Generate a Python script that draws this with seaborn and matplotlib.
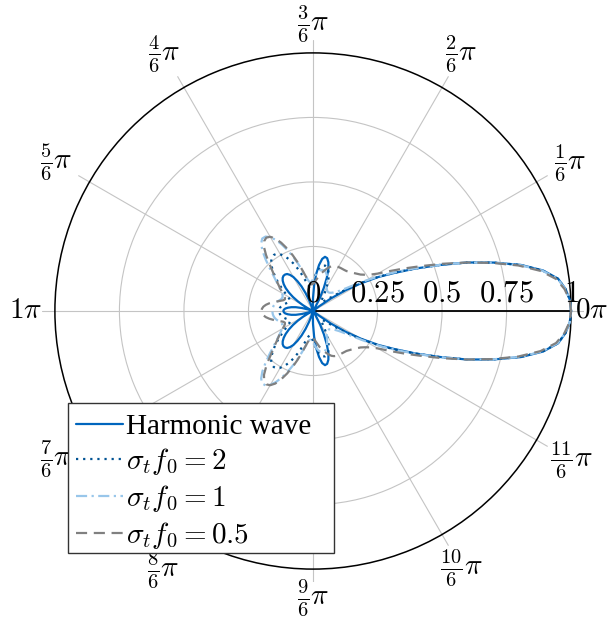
import numpy as np
import pandas as pd
import matplotlib
matplotlib.use("Agg")
import matplotlib.pyplot as plt
from matplotlib.patches import Rectangle
import seaborn as sns

# Directivity patterns (upper half-plane, mirrored below), angle in degrees
angle_deg = np.arange(0, 180.1, 2.5)

harmonic = [1.000, 0.996, 0.982, 0.958, 0.905, 0.825, 0.725, 0.625, 0.520, 0.430,
            0.350, 0.285, 0.215, 0.150, 0.085, 0.030, 0.005, 0.000, 0.000, 0.000,
            0.000, 0.000, 0.000, 0.005, 0.020, 0.060, 0.100, 0.140, 0.175, 0.198,
            0.212, 0.215, 0.205, 0.180, 0.145, 0.100, 0.050, 0.015, 0.000, 0.000,
            0.000, 0.000, 0.005, 0.020, 0.045, 0.075, 0.105, 0.130, 0.152, 0.166,
            0.175, 0.178, 0.178, 0.174, 0.166, 0.154, 0.138, 0.118, 0.095, 0.070,
            0.045, 0.020, 0.005, 0.000, 0.005, 0.020, 0.045, 0.068, 0.085, 0.098,
            0.108, 0.113, 0.115]

sigma_2 = [1.000, 0.996, 0.982, 0.957, 0.903, 0.823, 0.724, 0.624, 0.521, 0.432,
           0.354, 0.288, 0.224, 0.165, 0.118, 0.085, 0.065, 0.054, 0.048, 0.047,
           0.050, 0.058, 0.070, 0.087, 0.105, 0.125, 0.143, 0.159, 0.171, 0.179,
           0.182, 0.180, 0.173, 0.162, 0.148, 0.132, 0.117, 0.105, 0.097, 0.095,
           0.100, 0.112, 0.130, 0.152, 0.176, 0.200, 0.222, 0.240, 0.254, 0.263,
           0.265, 0.262, 0.252, 0.238, 0.220, 0.200, 0.180, 0.160, 0.142, 0.126,
           0.113, 0.104, 0.099, 0.098, 0.100, 0.105, 0.111, 0.117, 0.122, 0.126,
           0.129, 0.130, 0.130]

sigma_1 = [1.000, 0.996, 0.981, 0.956, 0.902, 0.822, 0.723, 0.624, 0.522, 0.435,
           0.360, 0.295, 0.235, 0.185, 0.150, 0.128, 0.115, 0.106, 0.100, 0.096,
           0.094, 0.094, 0.096, 0.100, 0.106, 0.117, 0.130, 0.143, 0.153, 0.160,
           0.163, 0.163, 0.160, 0.153, 0.143, 0.132, 0.122, 0.115, 0.112, 0.115,
           0.125, 0.142, 0.165, 0.192, 0.222, 0.253, 0.283, 0.310, 0.330, 0.342,
           0.343, 0.330, 0.305, 0.272, 0.240, 0.212, 0.190, 0.172, 0.158, 0.147,
           0.139, 0.133, 0.130, 0.130, 0.132, 0.137, 0.142, 0.147, 0.151, 0.154,
           0.156, 0.157, 0.157]

sigma_05 = [1.000, 0.995, 0.978, 0.950, 0.895, 0.815, 0.720, 0.625, 0.535, 0.455,
            0.390, 0.335, 0.290, 0.262, 0.245, 0.232, 0.224, 0.217, 0.211, 0.206,
            0.202, 0.200, 0.199, 0.198, 0.197, 0.196, 0.193, 0.188, 0.180, 0.170,
            0.160, 0.150, 0.140, 0.128, 0.118, 0.110, 0.105, 0.103, 0.105, 0.112,
            0.125, 0.143, 0.168, 0.198, 0.230, 0.262, 0.292, 0.317, 0.332, 0.337,
            0.330, 0.312, 0.283, 0.252, 0.225, 0.203, 0.185, 0.170, 0.157, 0.145,
            0.135, 0.126, 0.120, 0.118, 0.122, 0.132, 0.145, 0.158, 0.172, 0.184,
            0.193, 0.198, 0.200]

series_labels = ["Harmonic wave", r"$\sigma_t f_0 = 2$", r"$\sigma_t f_0 = 1$",
                 r"$\sigma_t f_0 = 0.5$"]
series_values = [harmonic, sigma_2, sigma_1, sigma_05]
series_colors = ["#0065BD", "#005293", "#98C6EA", "#808080"]
series_styles = ["-", (0, (1, 2.2)), (0, (5, 2, 1, 2)), (0, (5, 3))]

radial_ticks = [0, 0.25, 0.5, 0.75, 1]
radial_labels = ["$0$", "$0.25$", "$0.5$", "$0.75$", "$1$"]
angle_ticks_k = list(range(12))
angle_labels = ["$0\\pi$"] + [r"$\frac{%d}{6}\pi$" % k for k in range(1, 6)] + \
               ["$1\\pi$"] + [r"$\frac{%d}{6}\pi$" % k for k in range(7, 12)]
# radius at which each angle label is centred
angle_label_r = [1.08, 1.15, 1.15, 1.11, 1.15, 1.15,
                 1.115, 1.15, 1.16, 1.115, 1.15, 1.155]

sns.set_theme(style="white")
plt.rcParams["font.family"] = ["Liberation Serif", "DejaVu Serif"]
plt.rcParams["mathtext.fontset"] = "cm"
plt.rcParams["text.color"] = "black"

FS = 22
W, H = 609, 621
fig = plt.figure(figsize=(W / 100, H / 100), dpi=100)
cx, cy, R = 313, 311, 271
ax = fig.add_axes([(cx - R) / W, (H - cy - R) / H, 2 * R / W, 2 * R / H],
                  projection="polar")
ax.set_facecolor("white")
ax.set_ylim(0, 1.05)
ax.spines["polar"].set_visible(False)
ax.set_xticks(np.deg2rad(np.array(angle_ticks_k) * 30))
ax.set_xticklabels([])
ax.set_yticks([0.25, 0.5, 0.75, 1.0])
ax.set_yticklabels([])
ax.grid(True, color="#c4c4c4", linewidth=0.8)
ax.yaxis.get_gridlines()[-1].set_color("black")
ax.yaxis.get_gridlines()[-1].set_linewidth(1.1)
ax.plot([0, 0], [0, 1], color="black", linewidth=1.3, zorder=2)

# full closed curve: upper half then mirrored lower half
theta_up = np.deg2rad(angle_deg)
for lab, vals, col, ls in zip(series_labels, series_values, series_colors, series_styles):
    vals = np.asarray(vals)
    th = np.concatenate([theta_up, 2 * np.pi - theta_up[::-1][1:]])
    rr = np.concatenate([vals, vals[::-1][1:]])
    df = pd.DataFrame({"theta": th, "r": rr})
    sns.lineplot(data=df, x="theta", y="r", ax=ax, sort=False, estimator=None,
                 color=col, linestyle=ls, linewidth=1.6, label=lab, zorder=3)

ax.set_xlabel("")
ax.set_ylabel("")

# radial tick labels along the 0 direction
for rv, lab in zip(radial_ticks, radial_labels):
    ax.annotate(lab, xy=(0, rv), xytext=(0, 6.5), textcoords="offset points",
                ha="center", va="baseline", fontsize=FS, color="black", zorder=4)

# angle labels around the outer circle
for k, lab, rl in zip(angle_ticks_k, angle_labels, angle_label_r):
    ax.text(np.deg2rad(30 * k), rl, lab, ha="center", va="center", fontsize=21,
            color="black", clip_on=False, zorder=5)

# legend box (drawn separately so it can carry extra right padding)
box = Rectangle((68 / W, 1 - 553 / H), (334 - 68) / W, (553 - 403) / H,
                transform=fig.transFigure, facecolor="white", edgecolor="#333333",
                linewidth=1.0, zorder=9, clip_on=False)
ax.add_artist(box)
leg = ax.legend(loc="upper left", bbox_to_anchor=(76 / W, 1 - 414 / H),
                bbox_transform=fig.transFigure, borderaxespad=0, fontsize=21,
                frameon=False, handlelength=1.6, handletextpad=0.12,
                labelspacing=0.2, borderpad=0)
leg.set_zorder(10)
for t in leg.get_texts():
    t.set_color("black")

fig.savefig("out.png", dpi=100, facecolor="white")
